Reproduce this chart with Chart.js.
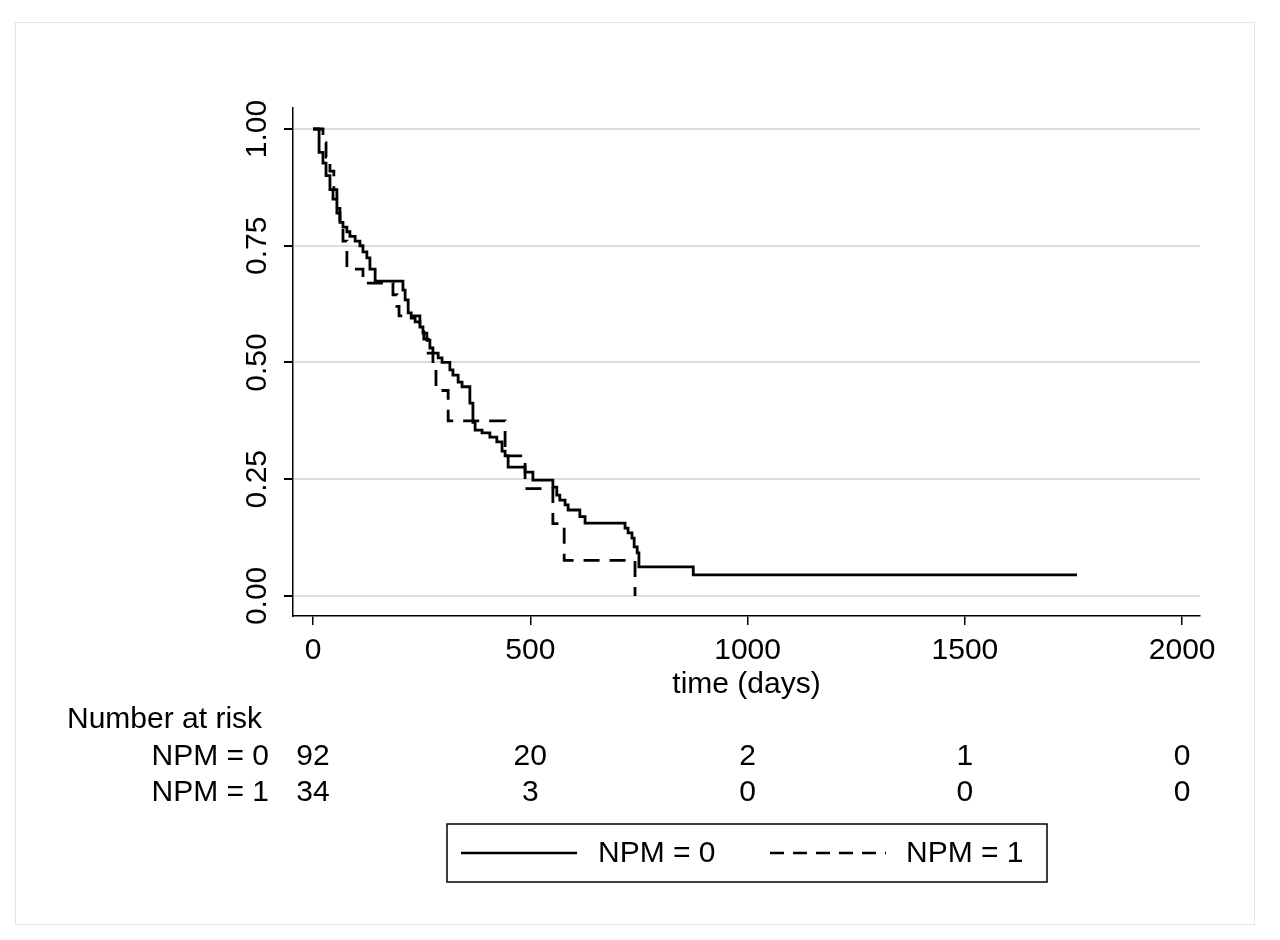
<!DOCTYPE html>
<html>
<head>
<meta charset="utf-8">
<script src="https://cdn.jsdelivr.net/npm/chart.js@4"></script>
<style>
  html, body { margin: 0; padding: 0; background: #fff; }
  #wrap { width: 1280px; height: 940px; }
</style>
</head>
<body>
<div id="wrap"><canvas id="kmChart" width="1280" height="940"></canvas></div>
<script>
// Kaplan-Meier estimates
const npm0Time = [0, 14, 23, 30, 39, 46, 55, 62, 69, 78, 85, 97, 108, 115, 124, 131, 143, 207, 212, 219, 226, 235, 246, 253, 262, 269, 276, 288, 297, 315, 322, 334, 343, 361, 368, 373, 389, 407, 423, 435, 442, 449, 488, 506, 552, 561, 568, 580, 587, 614, 626, 718, 725, 734, 739, 746, 750, 875, 1758];
const npm0Surv = [1, 0.95, 0.927, 0.90, 0.87, 0.85, 0.82, 0.80, 0.79, 0.78, 0.77, 0.76, 0.75, 0.737, 0.724, 0.70, 0.674, 0.655, 0.634, 0.606, 0.595, 0.587, 0.576, 0.563, 0.548, 0.531, 0.52, 0.51, 0.50, 0.484, 0.473, 0.458, 0.448, 0.413, 0.372, 0.355, 0.349, 0.34, 0.33, 0.31, 0.30, 0.276, 0.265, 0.248, 0.233, 0.216, 0.205, 0.195, 0.184, 0.17, 0.156, 0.145, 0.135, 0.124, 0.105, 0.092, 0.062, 0.045, 0.045];

const npm1Time = [0, 23, 30, 39, 48, 55, 62, 69, 78, 115, 184, 193, 198, 246, 255, 265, 276, 283, 311, 442, 488, 552, 578, 741];
const npm1Surv = [1, 0.97, 0.94, 0.91, 0.87, 0.83, 0.79, 0.76, 0.70, 0.67, 0.645, 0.62, 0.60, 0.57, 0.55, 0.52, 0.49, 0.44, 0.375, 0.30, 0.23, 0.155, 0.076, 0];

const xTicks = [0, 500, 1000, 1500, 2000];
const yTicks = [0, 0.25, 0.5, 0.75, 1];
const yTickLabels = ['0.00', '0.25', '0.50', '0.75', '1.00'];

// number at risk
const riskGroups = ['NPM = 0', 'NPM = 1'];
const risk0 = [92, 20, 2, 1, 0];
const risk1 = [34, 3, 0, 0, 0];

const FONT = '"Liberation Sans", Arial, Helvetica, sans-serif';
const FSIZE = 30;

function toPoints(ts, ss) {
    return ts.map((t, i) => ({ x: t, y: ss[i] }));
}

// frame, rotated y labels, x title, risk table and legend
const extras = {
    id: 'extras',
    beforeDraw(chart) {
        const ctx = chart.ctx;
        ctx.save();
        ctx.fillStyle = '#fff';
        ctx.fillRect(0, 0, chart.width, chart.height);
        ctx.strokeStyle = '#e4e4e4';
        ctx.lineWidth = 1;
        ctx.strokeRect(15.5, 22.5, 1239, 902);
        ctx.restore();
    },
    afterDraw(chart) {
        const ctx = chart.ctx;
        const xs = chart.scales.x, ys = chart.scales.y;
        ctx.save();
        ctx.fillStyle = '#000';
        ctx.font = FSIZE + 'px ' + FONT;

        // y tick labels, vertical
        yTicks.forEach((v, i) => {
            const py = ys.getPixelForValue(v);
            ctx.save();
            ctx.translate(258, py);
            ctx.rotate(-Math.PI / 2);
            ctx.textAlign = 'center';
            ctx.textBaseline = 'middle';
            ctx.fillText(yTickLabels[i], 0, 0);
            ctx.restore();
        });

        // x axis title
        ctx.textAlign = 'center';
        ctx.textBaseline = 'middle';
        ctx.fillText('time (days)', (xs.left + xs.right) / 2, 685);

        // number at risk
        ctx.textAlign = 'left';
        ctx.fillText('Number at risk', 67, 720);
        ctx.textAlign = 'right';
        ctx.fillText(riskGroups[0], 269, 757);
        ctx.fillText(riskGroups[1], 269, 793);
        ctx.textAlign = 'center';
        xTicks.forEach((t, i) => {
            const px = xs.getPixelForValue(t);
            ctx.fillText(String(risk0[i]), px, 757);
            ctx.fillText(String(risk1[i]), px, 793);
        });

        // legend
        ctx.strokeStyle = '#000';
        ctx.lineWidth = 1.5;
        ctx.strokeRect(447, 824, 600, 58);
        ctx.lineWidth = 2.5;
        ctx.beginPath();
        ctx.moveTo(461, 853); ctx.lineTo(577, 853);
        ctx.stroke();
        ctx.setLineDash([14, 9]);
        ctx.beginPath();
        ctx.moveTo(770, 853); ctx.lineTo(886, 853);
        ctx.stroke();
        ctx.setLineDash([]);
        ctx.textAlign = 'left';
        ctx.fillText('NPM = 0', 598, 854);
        ctx.fillText('NPM = 1', 906, 854);
        ctx.restore();
    }
};

const ctx = document.getElementById('kmChart').getContext('2d');
const chart = new Chart(ctx, {
    type: 'scatter',
    data: {
        datasets: [{
            label: 'NPM = 0',
            data: toPoints(npm0Time, npm0Surv),
            showLine: true,
            stepped: true,
            borderColor: '#000',
            borderWidth: 2.8,
            pointRadius: 0,
            fill: false
        }, {
            label: 'NPM = 1',
            data: toPoints(npm1Time, npm1Surv),
            showLine: true,
            stepped: true,
            borderColor: '#000',
            borderWidth: 2.8,
            borderDash: [16, 10],
            pointRadius: 0,
            fill: false
        }]
    },
    options: {
        responsive: false,
        animation: false,
        layout: { padding: { left: 233, right: 80, top: 108, bottom: 224 } },
        plugins: {
            legend: { display: false },
            tooltip: { enabled: false }
        },
        scales: {
            x: {
                type: 'linear',
                min: -46,
                max: 2041,
                afterBuildTicks: s => { s.ticks = xTicks.map(v => ({ value: v })); },
                afterFit: s => { s.height = 100; },
                grid: { drawOnChartArea: false, drawTicks: true, tickLength: 9, color: '#000', lineWidth: 1.5 },
                border: { display: true, color: '#000', width: 1.5 },
                ticks: {
                    color: '#000',
                    font: { family: FONT, size: FSIZE },
                    padding: 8,
                    maxRotation: 0,
                    callback: v => String(v)
                }
            },
            y: {
                type: 'linear',
                min: -0.043,
                max: 1.045,
                afterBuildTicks: s => { s.ticks = yTicks.map(v => ({ value: v })); },
                afterFit: s => { s.width = 60; },
                grid: { drawOnChartArea: true, drawTicks: true, tickLength: 9, color: '#dcdcdc', tickColor: '#000', lineWidth: 2 },
                border: { display: true, color: '#000', width: 1.5 },
                ticks: { display: false }
            }
        }
    },
    plugins: [extras]
});
</script>
</body>
</html>
